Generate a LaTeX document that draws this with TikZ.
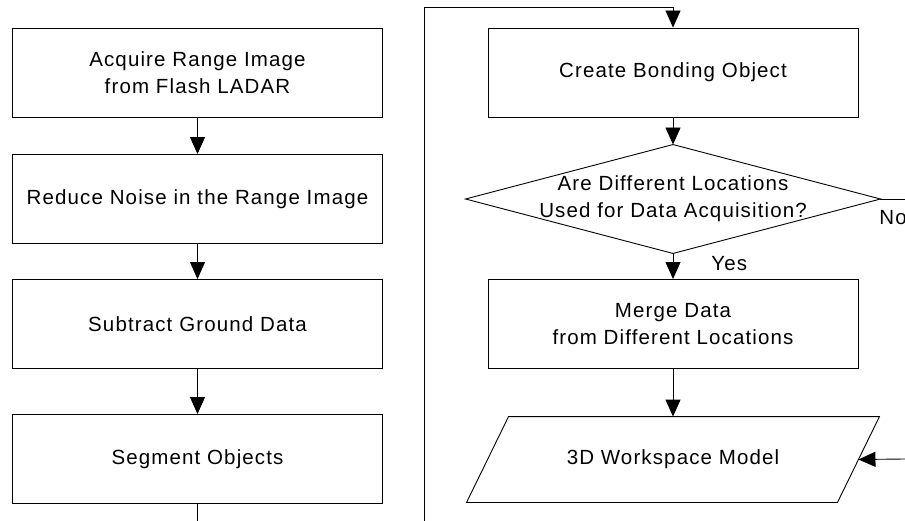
\documentclass[tikz,border=0pt]{standalone}
\usepackage{fontspec}
\setmainfont{Liberation Sans}[LetterSpace=5.5]
\usetikzlibrary{arrows.meta,calc}
\begin{document}
\begin{tikzpicture}[x=1pt,y=-1pt,
  font=\fontsize{20.5}{27}\selectfont,
  line width=0.9pt,
  stepbox/.style={draw, rectangle, minimum width=370pt, minimum height=89pt, inner sep=0pt, align=center},
  shapebox/.style={rectangle, minimum width=370pt, minimum height=85pt, inner sep=0pt, align=center},
  decbox/.style={rectangle, minimum width=414pt, minimum height=108pt, inner sep=0pt, align=center},
  flow/.style={-{Triangle[length=17pt,width=15pt]}},
  plain/.style={-}]
\useasboundingbox (0,0) rectangle (905,521);

\node[stepbox] (b1) at (197.5,72.5) {Acquire Range Image\\from Flash LADAR};
\node[stepbox] (b2) at (197.5,199) {Reduce Noise in the Range Image};
\node[stepbox] (b3) at (197.5,324) {Subtract Ground Data};
\node[stepbox] (b4) at (197.5,459) {Segment Objects};

\node[stepbox] (c1) at (673,72.5) {Create Bonding Object};
\node[decbox] (d) at (673,199) {Are Different Locations\\Used for Data Acquisition?};
\draw (d.north) -- (d.east) -- (d.south) -- (d.west) -- cycle;
\node[stepbox] (m) at (673,324) {Merge Data\\from Different Locations};
\node[shapebox] (p) at (673,459.5) {3D Workspace Model};
\draw ($(p.north west)+(21,0)$) -- ($(p.north east)+(21,0)$) -- ($(p.south east)+(-21,0)$) -- ($(p.south west)+(-21,0)$) -- cycle;

\coordinate (b4end) at (197.5,521);
\coordinate (loopbot) at (424,521);
\coordinate (looptop) at (424,7);
\coordinate (looptopr) at (673,7);
\coordinate (noend) at (905,199);
\coordinate (retstart) at (905,459);

\draw[flow] (b1) -- (b2);
\draw[flow] (b2) -- (b3);
\draw[flow] (b3) -- (b4);
\draw[plain] (b4) -- (b4end);
\draw[flow] (loopbot) -- (looptop) -- (looptopr) -- (c1.north);
\draw[flow] (c1) -- (d.north);
\draw[flow] (d.south) -- (m.north);
\draw[flow] (m) -- (p.north);
\draw[plain] (d.east) -- (noend);
\draw[flow] (retstart) -- (p.east);

\node[anchor=west, inner sep=0pt] (yes) at (711,264) {Yes};
\node[anchor=west, inner sep=0pt] (no) at (879,218) {No};
\end{tikzpicture}
\end{document}
